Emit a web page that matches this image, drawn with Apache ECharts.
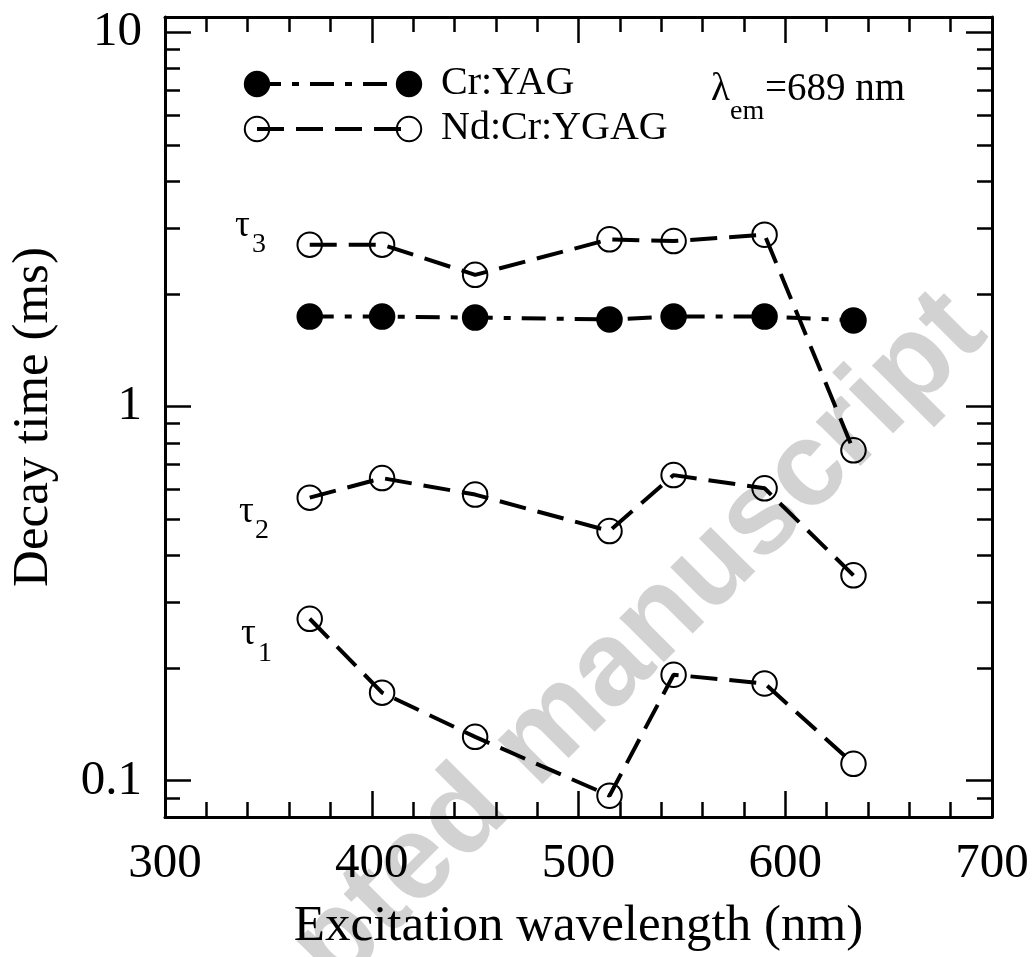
<!DOCTYPE html>
<html>
<head>
<meta charset="utf-8">
<script src="https://cdn.jsdelivr.net/npm/echarts@6/dist/echarts.min.js"></script>
<style>
  html, body { margin: 0; padding: 0; background: #fff; }
  #chart { width: 1035px; height: 957px; }
</style>
</head>
<body>
<div id="chart"></div>
<script>
// Excitation wavelengths (nm)
const wavelengths = [370, 405, 450, 515, 546, 590, 633];
// Decay times (ms)
const crYAG = [1.74, 1.74, 1.73, 1.71, 1.74, 1.74, 1.70];
const tau3 = [2.71, 2.71, 2.25, 2.80, 2.77, 2.88, 0.764];
const tau2 = [0.571, 0.644, 0.582, 0.465, 0.656, 0.605, 0.354];
const tau1 = [0.271, 0.172, 0.131, 0.0912, 0.192, 0.182, 0.111];

// Axis ticks
const xTicks = [300, 400, 500, 600, 700];
const xTickLabels = ['300', '400', '500', '600', '700'];
const yMajorTicks = [0.1, 1, 10];
const yTickLabels = ['0.1', '1', '10'];
const yMinorTicks = [0.09, 0.2, 0.3, 0.4, 0.5, 0.6, 0.7, 0.8, 0.9, 2, 3, 4, 5, 6, 7, 8, 9];

const SERIF = '"Liberation Serif", "Times New Roman", serif';
const BLACK = '#000';

function pairs(ys) {
  return wavelengths.map(function (x, i) { return [x, ys[i]]; });
}

const axisLine = { show: true, lineStyle: { color: BLACK, width: 3 } };
const majorTickX = { show: true, inside: true, length: 26, lineStyle: { color: BLACK, width: 2.5 } };
const minorTickX = { show: true, splitNumber: 5, length: 15, lineStyle: { color: BLACK, width: 2.5 } };

function yAxisBase(position) {
  return {
    type: 'log', logBase: 10, min: 0.08, max: 11, position: position,
    splitLine: { show: false }, minorTick: { show: false }, minorSplitLine: { show: false }
  };
}

const yMajorLeft = Object.assign(yAxisBase('left'), {
  axisLine: axisLine,
  axisTick: { show: true, inside: true, length: 26, customValues: yMajorTicks, lineStyle: { color: BLACK, width: 2.5 } },
  axisLabel: {
    show: true, customValues: yMajorTicks, margin: 23, fontSize: 49, fontFamily: SERIF, color: BLACK,
    formatter: function (v) {
      for (let i = 0; i < yMajorTicks.length; i++) {
        if (Math.abs(Math.log10(v) - Math.log10(yMajorTicks[i])) < 1e-6) return yTickLabels[i];
      }
      return '';
    }
  },
  name: 'Decay time (ms)', nameLocation: 'middle', nameGap: 106,
  nameTextStyle: { fontSize: 51, fontFamily: SERIF, color: BLACK }
});
const yMajorRight = Object.assign(yAxisBase('right'), {
  axisLine: axisLine,
  axisTick: { show: true, inside: true, length: 26, customValues: yMajorTicks, lineStyle: { color: BLACK, width: 2.5 } },
  axisLabel: { show: false }
});
const yMinorLeft = Object.assign(yAxisBase('left'), {
  axisLine: { show: false },
  axisTick: { show: true, inside: true, length: 15, customValues: yMinorTicks, lineStyle: { color: BLACK, width: 2.5 } },
  axisLabel: { show: false }
});
const yMinorRight = Object.assign(yAxisBase('right'), {
  axisLine: { show: false },
  axisTick: { show: true, inside: true, length: 15, customValues: yMinorTicks, lineStyle: { color: BLACK, width: 2.5 } },
  axisLabel: { show: false }
});

const ndLine = { color: BLACK, width: 4, type: [27, 12] };
const ndItem = { color: 'rgba(0,0,0,0)', borderColor: BLACK, borderWidth: 2 };
const crLine = { color: BLACK, width: 4, type: [24, 11, 7, 11] };

function ndSeries(name, ys) {
  return {
    name: name, type: 'line', data: pairs(ys), xAxisIndex: 0, yAxisIndex: 0,
    symbol: 'circle', symbolSize: 24.5, showAllSymbol: true,
    lineStyle: ndLine, itemStyle: ndItem, z: 3,
    emphasis: { disabled: true }, silent: true
  };
}

function txt(text, x, y, size, opts) {
  const o = Object.assign({ align: 'left', family: SERIF, weight: 'normal', color: BLACK }, opts || {});
  return {
    type: 'text', x: x, y: y, z: 100, silent: true,
    style: {
      text: text, fill: o.color,
      font: o.weight + ' ' + size + 'px ' + o.family,
      align: o.align, verticalAlign: 'middle',
      textAlign: o.align, textVerticalAlign: 'middle'
    }
  };
}
// place text by its baseline (middle of em box sits 0.3375 em above the baseline)
function txtBase(text, x, baseline, size, opts) {
  return txt(text, x, baseline - 0.3375 * size, size, opts);
}

const legendY1 = 84, legendY2 = 129, legendX1 = 257, legendX2 = 409;

const graphics = [
  // watermark
  {
    type: 'text', x: 539, y: 741, rotation: 45 * Math.PI / 180, z: -10, silent: true,
    style: {
      text: 'Accepted manuscript', fill: '#d2d2d2',
      font: 'bold 119px "Liberation Sans", Arial, sans-serif',
      align: 'center', verticalAlign: 'middle', textAlign: 'center', textVerticalAlign: 'middle'
    }
  },
  // legend: Cr:YAG
  { type: 'line', z: 100, silent: true, shape: { x1: legendX1, y1: legendY1, x2: legendX2, y2: legendY1 },
    style: { stroke: BLACK, lineWidth: 4, lineDash: [24, 11, 7, 11] } },
  { type: 'circle', z: 101, silent: true, shape: { cx: legendX1, cy: legendY1, r: 13.2 }, style: { fill: BLACK } },
  { type: 'circle', z: 101, silent: true, shape: { cx: legendX2, cy: legendY1, r: 13.2 }, style: { fill: BLACK } },
  txt('Cr:YAG', 441, 83.7, 40),
  // legend: Nd:Cr:YGAG
  { type: 'line', z: 100, silent: true, shape: { x1: legendX1, y1: legendY2, x2: legendX2, y2: legendY2 },
    style: { stroke: BLACK, lineWidth: 4, lineDash: [27, 12] } },
  { type: 'circle', z: 101, silent: true, shape: { cx: legendX1, cy: legendY2, r: 12.2 },
    style: { fill: null, stroke: BLACK, lineWidth: 2 } },
  { type: 'circle', z: 101, silent: true, shape: { cx: legendX2, cy: legendY2, r: 12.2 },
    style: { fill: null, stroke: BLACK, lineWidth: 2 } },
  txt('Nd:Cr:YGAG', 441, 128.7, 40),
  // emission wavelength note
  txtBase('λ', 711, 103, 39),
  txtBase('em', 730, 121, 28),
  txtBase('=689 nm', 765, 103, 39),
  // lifetime component labels
  txtBase('τ', 235, 239, 37),
  txtBase('3', 252, 254, 28),
  txtBase('τ', 239, 525, 37),
  txtBase('2', 255, 540, 28),
  txtBase('τ', 241, 647, 37),
  txtBase('1', 258, 663, 28)
];

const option = {
  animation: false,
  backgroundColor: '#fff',
  grid: { left: 163, right: 43, top: 17, bottom: 140, containLabel: false },
  xAxis: [
    {
      type: 'value', min: 300, max: 700, interval: 100, position: 'bottom',
      axisLine: axisLine, axisTick: majorTickX, minorTick: minorTickX,
      splitLine: { show: false }, minorSplitLine: { show: false },
      axisLabel: {
        margin: 23, fontSize: 49, fontFamily: SERIF, color: BLACK,
        formatter: function (v) { const i = xTicks.indexOf(v); return i >= 0 ? xTickLabels[i] : ''; }
      },
      name: 'Excitation wavelength (nm)', nameLocation: 'middle', nameGap: 84,
      nameTextStyle: { fontSize: 51, fontFamily: SERIF, color: BLACK }
    },
    {
      type: 'value', min: 300, max: 700, interval: 100, position: 'top',
      axisLine: axisLine, axisTick: majorTickX, minorTick: minorTickX,
      splitLine: { show: false }, minorSplitLine: { show: false },
      axisLabel: { show: false }
    }
  ],
  yAxis: [yMajorLeft, yMajorRight, yMinorLeft, yMinorRight],
  series: [
    {
      name: 'Cr:YAG', type: 'line', data: pairs(crYAG), xAxisIndex: 0, yAxisIndex: 0,
      symbol: 'circle', symbolSize: 26.5, showAllSymbol: true,
      lineStyle: crLine, itemStyle: { color: BLACK }, z: 4,
      emphasis: { disabled: true }, silent: true
    },
    ndSeries('Nd:Cr:YGAG τ3', tau3),
    ndSeries('Nd:Cr:YGAG τ2', tau2),
    ndSeries('Nd:Cr:YGAG τ1', tau1)
  ],
  graphic: graphics
};

const chart = echarts.init(document.getElementById('chart'), null, { renderer: 'canvas' });
chart.setOption(option);
</script>
</body>
</html>
